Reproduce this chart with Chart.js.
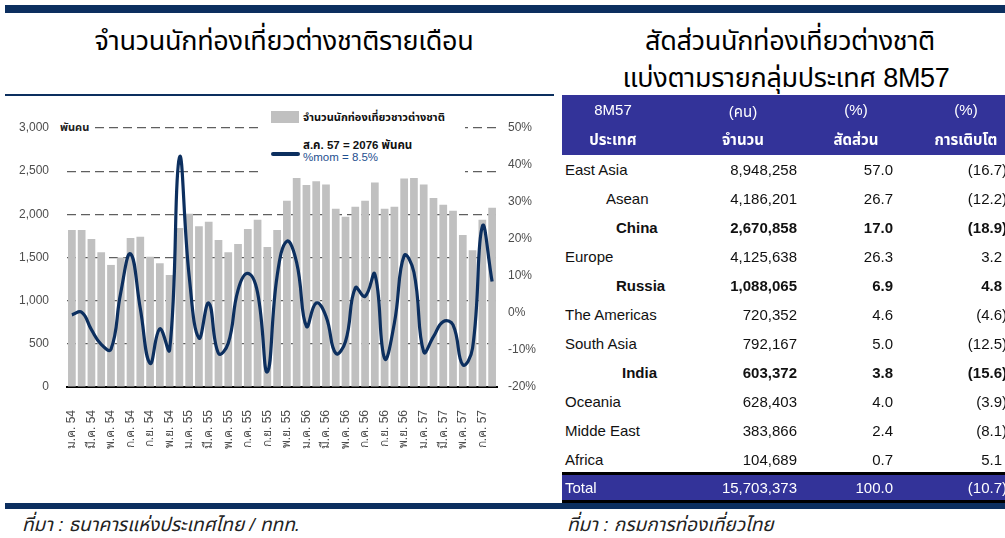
<!DOCTYPE html>
<html>
<head>
<meta charset="utf-8">
<script src="https://cdn.jsdelivr.net/npm/chart.js@4.4.0/dist/chart.umd.min.js"></script>
<style>
    body { margin: 0; width: 1005px; height: 538px; overflow: hidden; background: #fff; position: relative;
           font-family: "Liberation Sans", Arial, "Noto Sans Thai", sans-serif; }
    .abs { position: absolute; white-space: nowrap; }
    .title { font-size: 27px; color: #000; text-align: center; letter-spacing: -0.3px; }
    .cell { position: absolute; white-space: nowrap; font-size: 15px; line-height: 29px; color: #111; }
    .hd { position: absolute; white-space: nowrap; font-size: 15px; color: #fff; text-align: center; }
</style>
</head>
<body>
<div class="abs" style="left:5px;top:5px;width:1000px;height:8px;background:#0c2f5f;"></div>
<div class="abs title" style="left:40px;top:21px;width:488px;">จำนวนนักท่องเที่ยวต่างชาติรายเดือน</div>
<div class="abs title" style="left:580px;top:21px;width:420px;">สัดส่วนนักท่องเที่ยวต่างชาติ</div>
<div class="abs title" style="left:576px;top:58px;width:420px;">แบ่งตามรายกลุ่มประเทศ 8M57</div>
<div class="abs" style="left:5px;top:94px;width:549px;height:2px;background:#0c2f5f;"></div>

<div class="abs" style="left:0;top:97px;width:555px;height:403px;">
    <canvas id="tourChart" width="555" height="403"></canvas>
</div>

<!-- unit + legend -->
<div class="abs" style="left:58px;top:119px;padding:0 4px 0 2px;background:#fff;font-size:11px;font-weight:bold;color:#222;">พันคน</div>
<div class="abs" style="left:262px;top:104px;width:203px;height:74px;background:#fff;"></div>
<div class="abs" style="left:271px;top:111px;width:28px;height:12px;background:#c0c0c0;"></div>
<div class="abs" style="left:303px;top:109px;font-size:11px;font-weight:bold;color:#111;">จำนวนนักท่องเที่ยวชาวต่างชาติ</div>
<div class="abs" style="left:271px;top:152px;width:29px;height:4px;border-radius:2px;background:#0c2f5f;"></div>
<div class="abs" style="left:303px;top:137px;font-size:11.5px;font-weight:bold;color:#111;">ส.ค. 57 = 2076 พันคน</div>
<div class="abs" style="left:303px;top:151px;font-size:11.5px;color:#1f4f8f;">%mom = 8.5%</div>

<!-- table -->
<div id="tbl"></div>

<div class="abs" style="left:5px;top:503px;width:1000px;height:6px;background:#0c2f5f;"></div>
<div class="abs" style="left:22px;top:511px;font-size:19px;font-style:italic;color:#222;">ที่มา : ธนาคารแห่งประเทศไทย / ททท.</div>
<div class="abs" style="left:567px;top:511px;font-size:19px;font-style:italic;color:#222;">ที่มา : กรมการท่องเที่ยวไทย</div>

<script>
// monthly data, Jan 2011 (ม.ค. 54) - Aug 2014 (ส.ค. 57)
const months = [
    'ม.ค. 54', 'ก.พ. 54', 'มี.ค. 54', 'เม.ย. 54', 'พ.ค. 54', 'มิ.ย. 54', 'ก.ค. 54', 'ส.ค. 54', 'ก.ย. 54', 'ต.ค. 54', 'พ.ย. 54', 'ธ.ค. 54',
    'ม.ค. 55', 'ก.พ. 55', 'มี.ค. 55', 'เม.ย. 55', 'พ.ค. 55', 'มิ.ย. 55', 'ก.ค. 55', 'ส.ค. 55', 'ก.ย. 55', 'ต.ค. 55', 'พ.ย. 55', 'ธ.ค. 55',
    'ม.ค. 56', 'ก.พ. 56', 'มี.ค. 56', 'เม.ย. 56', 'พ.ค. 56', 'มิ.ย. 56', 'ก.ค. 56', 'ส.ค. 56', 'ก.ย. 56', 'ต.ค. 56', 'พ.ย. 56', 'ธ.ค. 56',
    'ม.ค. 57', 'ก.พ. 57', 'มี.ค. 57', 'เม.ย. 57', 'พ.ค. 57', 'มิ.ย. 57', 'ก.ค. 57', 'ส.ค. 57'
];
// พันคน
const visitors = [
    1819, 1819, 1714, 1562, 1414, 1500, 1726, 1741, 1508, 1434, 1297, 1843,
    2006, 1862, 1913, 1702, 1562, 1656, 1831, 1936, 1621, 1819, 2158, 2462,
    2341, 2384, 2345, 2065, 1971, 2088, 2158, 2368, 2065, 2088, 2415, 2626,
    2345, 2189, 2111, 2041, 1761, 1585, 1936, 2076
];
// %mom
const momPct = [
    -0.5, 0.2, -4.5, -8.5, -9.8, 5.5, 16, 1.2, -13.6, -4.3, -10, 42,
    10, -6.8, 2.7, -10.9, -8.2, 6.2, 10.7, 5.5, -15.9, 10, 19.4, 13.6,
    -3.6, 2.7, -0.9, -10.9, -7.7, 6.8, 4.5, 10.5, -12.3, -2.7, 15.5, 11,
    -10.5, -6.4, -2.3, -3.2, -14, -9.5, 23.4, 8.5
];

// table 8M57
const regions = ['East Asia', 'Asean', 'China', 'Europe', 'Russia', 'The Americas', 'South Asia', 'India', 'Oceania', 'Midde East', 'Africa', 'Total'];
const regionCounts = ['8,948,258', '4,186,201', '2,670,858', '4,125,638', '1,088,065', '720,352', '792,167', '603,372', '628,403', '383,866', '104,689', '15,703,373'];
const regionShares = ['57.0', '26.7', '17.0', '26.3', '6.9', '4.6', '5.0', '3.8', '4.0', '2.4', '0.7', '100.0'];
const regionGrowth = ['(16.7)', '(12.2)', '(18.9)', '3.2', '4.8', '(4.6)', '(12.5)', '(15.6)', '(3.9)', '(8.1)', '5.1', '(10.7)'];
const labelIndent = [565, 606, 616, 565, 616, 565, 565, 622, 565, 565, 565, 565];
const boldRows = [2, 4, 7];

// --- table ---
(function () {
    let html = '';
    html += '<div class="abs" style="left:562px;top:95px;width:443px;height:60px;background:#333399;"></div>';
    const heads1 = ['8M57', '(คน)', '(%)', '(%)'];
    const heads2 = ['ประเทศ', 'จำนวน', 'สัดส่วน', 'การเติบโต'];
    const centers = [613, 743, 856, 966];
    for (let i = 0; i < 4; i++) {
        html += '<div class="hd" style="left:' + (centers[i] - 60) + 'px;top:101px;width:120px;">' + heads1[i] + '</div>';
        html += '<div class="hd" style="left:' + (centers[i] - 60) + 'px;top:129px;width:120px;font-weight:bold;">' + heads2[i] + '</div>';
    }
    html += '<div class="abs" style="left:562px;top:472px;width:443px;height:3px;background:#000;"></div>';
    html += '<div class="abs" style="left:562px;top:475px;width:443px;height:25px;background:#333399;"></div>';
    html += '<div class="abs" style="left:562px;top:500px;width:443px;height:3px;background:#000;"></div>';
    for (let r = 0; r < regions.length; r++) {
        const top = r === regions.length - 1 ? 473 : 155 + r * 29;
        const isTotal = r === regions.length - 1;
        const style = (boldRows.includes(r) ? 'font-weight:bold;' : '') + (isTotal ? 'color:#fff;' : '');
        html += '<div class="cell" style="left:' + labelIndent[r] + 'px;top:' + top + 'px;' + style + '">' + regions[r] + '</div>';
        html += '<div class="cell" style="right:' + (1005 - 797) + 'px;top:' + top + 'px;' + style + '">' + regionCounts[r] + '</div>';
        html += '<div class="cell" style="right:' + (1005 - 893) + 'px;top:' + top + 'px;' + style + '">' + regionShares[r] + '</div>';
        const g = regionGrowth[r];
        const rightEdge = g.charAt(0) === '(' ? 1007 : 1002;
        html += '<div class="cell" style="right:' + (1005 - rightEdge) + 'px;top:' + top + 'px;' + style + '">' + g + '</div>';
    }
    document.getElementById('tbl').innerHTML = html;
})();

// --- chart ---
const ctx = document.getElementById('tourChart').getContext('2d');
const tickFont = { family: '"Liberation Sans", Arial, sans-serif', size: 12 };

new Chart(ctx, {
    data: {
        labels: months,
        datasets: [
            {
                type: 'line',
                label: '%mom',
                data: momPct,
                yAxisID: 'y1',
                borderColor: '#0c2f5f',
                borderWidth: 3.2,
                pointRadius: 0,
                tension: 0.45,
                order: 0
            },
            {
                type: 'bar',
                label: 'จำนวนนักท่องเที่ยวชาวต่างชาติ',
                data: visitors,
                yAxisID: 'y',
                backgroundColor: '#c0c0c0',
                barPercentage: 0.79,
                categoryPercentage: 1,
                order: 1
            }
        ]
    },
    options: {
        responsive: false,
        animation: false,
        layout: { padding: { top: 31, left: 0, right: 0, bottom: 0 } },
        plugins: { legend: { display: false }, tooltip: { enabled: false } },
        scales: {
            x: {
                grid: { display: false },
                border: { color: '#000', width: 2 },
                ticks: {
                    autoSkip: false,
                    maxRotation: 90,
                    minRotation: 90,
                    padding: 15,
                    font: tickFont,
                    color: '#4d4d4d',
                    callback: function (v, i) { return i % 2 === 0 ? this.getLabelForValue(v) : ''; }
                },
                afterFit: function (s) { s.height = 113; }
            },
            y: {
                position: 'left',
                min: 0,
                max: 3000,
                ticks: {
                    stepSize: 500,
                    padding: 18,
                    font: tickFont,
                    color: '#4d4d4d',
                    callback: v => v.toLocaleString('en-US')
                },
                grid: {
                    drawTicks: false,
                    lineWidth: 1.2,
                    color: c => (c.tick && c.tick.value === 0) ? 'rgba(0,0,0,0)' : '#5f5f5f'
                },
                border: { display: false, dash: [9, 5] },
                afterFit: function (s) { s.width = 67; }
            },
            y1: {
                position: 'right',
                min: -20,
                max: 50,
                ticks: {
                    stepSize: 10,
                    padding: 11,
                    font: tickFont,
                    color: '#4d4d4d',
                    callback: v => v + '%'
                },
                grid: { display: false, drawTicks: false },
                border: { display: false },
                afterFit: function (s) { s.width = 58; }
            }
        }
    }
});
</script>
</body>
</html>
